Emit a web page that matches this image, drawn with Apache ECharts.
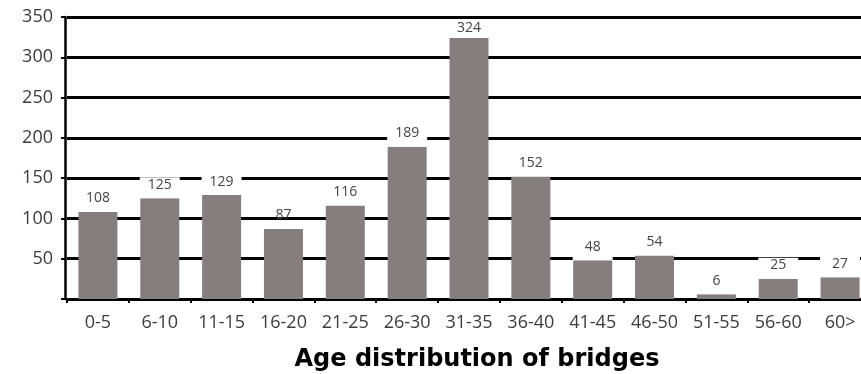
<!DOCTYPE html>
<html>
<head>
<meta charset="utf-8">
<script src="https://cdn.jsdelivr.net/npm/echarts@6/dist/echarts.min.js"></script>
<style>
  html, body { margin: 0; padding: 0; background: #fff; overflow: hidden; }
  /* the plot runs past the right edge of the window, as the last band is cut off */
  #chart { width: 871px; height: 374px; }
</style>
</head>
<body>
<div id="chart"></div>
<script>
// Bridge counts per age band (years)
const ageBands = ['0-5', '6-10', '11-15', '16-20', '21-25', '26-30', '31-35',
                  '36-40', '41-45', '46-50', '51-55', '56-60', '60>'];
const bridgeCounts = [108, 125, 129, 87, 116, 189, 324, 152, 48, 54, 6, 25, 27];

// Value axis range
const yMin = 0;
const yMax = 350;
const yStep = 50;

const chartTitle = 'Age distribution of bridges';

const BAR_W = 39;
const AXIS_FONT = 'Open Sans';

const barData = bridgeCounts.map(function (v, i) {
  const item = { value: v };
  if (v === 87) {
    // this label sits over the gridline without masking it
    item.label = { backgroundColor: 'transparent' };
  }
  if (v === Math.max.apply(null, bridgeCounts)) {
    item.label = { padding: [0, 0, 2, 0] };
  }
  return item;
});

const chart = echarts.init(document.getElementById('chart'), null, { renderer: 'canvas' });

chart.setOption({
  animation: false,
  backgroundColor: '#ffffff',
  title: {
    text: chartTitle,
    left: 477,
    textAlign: 'center',
    top: 348,
    padding: 0,
    textStyle: {
      fontFamily: 'DejaVu Sans',
      fontWeight: 'bold',
      fontSize: 24,
      color: '#000000'
    }
  },
  grid: {
    left: 67,
    top: 17,
    bottom: 75,
    right: 0,
    containLabel: false
  },
  xAxis: {
    type: 'category',
    data: ageBands,
    boundaryGap: true,
    axisLine: { show: true, lineStyle: { color: '#000', width: 2.5 } },
    axisTick: { show: true, length: 4, lineStyle: { color: '#000', width: 2 } },
    axisLabel: {
      margin: 15,
      fontFamily: AXIS_FONT,
      fontSize: 18,
      color: '#3c3c3c',
      interval: 0
    },
    splitLine: { show: false }
  },
  yAxis: {
    type: 'value',
    min: yMin,
    max: yMax,
    interval: yStep,
    offset: 2,
    axisLine: { show: true, lineStyle: { color: '#000', width: 2.5 } },
    axisTick: { show: true, length: 4, lineStyle: { color: '#000', width: 2 } },
    axisLabel: {
      margin: 12,
      fontFamily: AXIS_FONT,
      fontSize: 18,
      color: '#3c3c3c',
      formatter: function (v) { return v === 0 ? '' : String(v); }
    },
    splitLine: { show: true, lineStyle: { color: '#000', width: 3 } }
  },
  series: [{
    type: 'bar',
    data: barData,
    barWidth: BAR_W,
    itemStyle: { color: '#867e7c' },
    label: {
      show: true,
      position: 'top',
      distance: 0,
      fontFamily: AXIS_FONT,
      fontSize: 14,
      color: '#444444',
      backgroundColor: '#ffffff',
      width: BAR_W + 1,
      align: 'center',
      lineHeight: 15,
      padding: [0, 0, 6, 0]
    }
  }]
});
</script>
</body>
</html>
